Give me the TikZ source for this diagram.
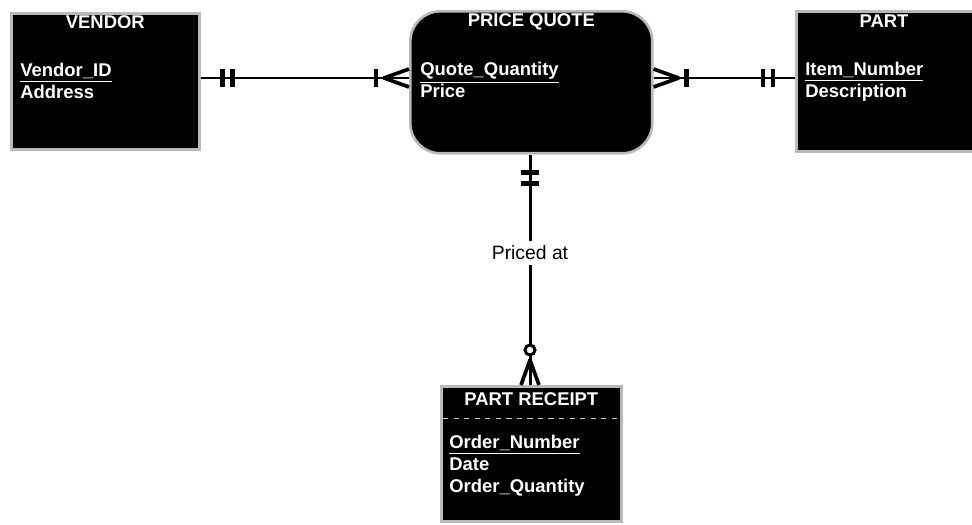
\documentclass[tikz,border=0pt]{standalone}
\usepackage{fontspec}
\setmainfont{Liberation Sans}
\usepackage{tikz}
\usetikzlibrary{calc}

\begin{document}
\begin{tikzpicture}[
    x=0.02cm,
    y=-0.02cm,
    entity/.style={
        draw=gray!55,
        line width=1.5pt,
        fill=black,
        rectangle,
        anchor=north west,
        inner sep=0pt
    },
    title/.style={
        text=white,
        font=\fontsize{10.5}{12.5}\selectfont\bfseries,
        anchor=base,
        inner sep=0pt
    },
    attrs/.style={
        text=white,
        font=\fontsize{10.5}{12.5}\selectfont\bfseries,
        align=left,
        anchor=north west,
        inner sep=0pt
    },
    rel/.style={line width=1.7pt},
    erbar/.style={line width=2.5pt},
    crowfoot/.style={line width=2.1pt, line join=round}
]

\useasboundingbox (0,0) rectangle (972,524);

% Nodes
\node[entity, minimum width=3.76cm, minimum height=2.72cm] (vendor) at (10,12) {};
\node[title] (vendortitle) at ($(vendor.north)+(0,17)$) {VENDOR};
\node[attrs] (vendorattr) at ($(vendor.north west)+(10,51)$) {\underline{Vendor\_ID}\\Address};

\node[entity, rounded corners=0.6cm, minimum width=4.84cm, minimum height=2.84cm] (quote) at (409,10) {};
\node[title] (quotetitle) at ($(quote.north)+(0,16)$) {PRICE QUOTE};
\node[attrs] (quoteattr) at ($(quote.north west)+(11,52)$) {\underline{Quote\_Quantity}\\Price};

\node[entity, minimum width=3.7cm, minimum height=2.8cm] (part) at (795,10) {};
\node[title] (parttitle) at ($(part.north west)+(89,18)$) {PART};
\node[attrs] (partattr) at ($(part.north west)+(10,52)$) {\underline{Item\_Number}\\Description};

\node[entity, minimum width=3.6cm, minimum height=2.7cm] (receipt) at (440,385) {};
\node[title] (receipttitle) at ($(receipt.north)+(0,20)$) {PART RECEIPT};
\node[attrs] (receiptattr) at ($(receipt.north west)+(9,50)$) {\underline{Order\_Number}\\Date\\Order\_Quantity};
\draw[gray!45, dashed, line width=0.5pt] ($(receipt.north west)+(3,33)$) -- ($(receipt.north east)+(-3,33)$);

\node[font=\fontsize{11}{13}\selectfont, inner sep=2.5pt] (pricedat) at (530,253) {Priced at};

% Connections
\coordinate (row) at (0,78);

\draw[rel] (vendor.east |- row) -- (quote.west |- row);
\draw[erbar] ($(vendor.east |- row)+(22,-9)$) -- ($(vendor.east |- row)+(22,9)$);
\draw[erbar] ($(vendor.east |- row)+(32,-9)$) -- ($(vendor.east |- row)+(32,9)$);
\draw[erbar] ($(quote.west |- row)+(-33,-9)$) -- ($(quote.west |- row)+(-33,9)$);
\draw[crowfoot] ($(quote.west |- row)+(0,-9)$) -- ($(quote.west |- row)+(-25,0)$) -- ($(quote.west |- row)+(0,9)$);

\draw[rel] (quote.east |- row) -- (part.west |- row);
\draw[crowfoot] ($(quote.east |- row)+(0,-9)$) -- ($(quote.east |- row)+(25,0)$) -- ($(quote.east |- row)+(0,9)$);
\draw[erbar] ($(quote.east |- row)+(33,-9)$) -- ($(quote.east |- row)+(33,9)$);
\draw[erbar] ($(part.west |- row)+(-32,-9)$) -- ($(part.west |- row)+(-32,9)$);
\draw[erbar] ($(part.west |- row)+(-22,-9)$) -- ($(part.west |- row)+(-22,9)$);

\draw[rel] (pricedat.north |- quote.south) -- (pricedat.north);
\draw[erbar] ($(pricedat.north |- quote.south)+(-9,18)$) -- ($(pricedat.north |- quote.south)+(9,18)$);
\draw[erbar] ($(pricedat.north |- quote.south)+(-9,29)$) -- ($(pricedat.north |- quote.south)+(9,29)$);

\draw[rel] (pricedat.south) -- (pricedat.south |- receipt.north);
\draw[rel, fill=white] ($(pricedat.south |- receipt.north)+(0,-35)$) circle (5);
\draw[crowfoot] ($(pricedat.south |- receipt.north)+(-9,0)$) -- ($(pricedat.south |- receipt.north)+(0,-25)$) -- ($(pricedat.south |- receipt.north)+(9,0)$);

\end{tikzpicture}
\end{document}
